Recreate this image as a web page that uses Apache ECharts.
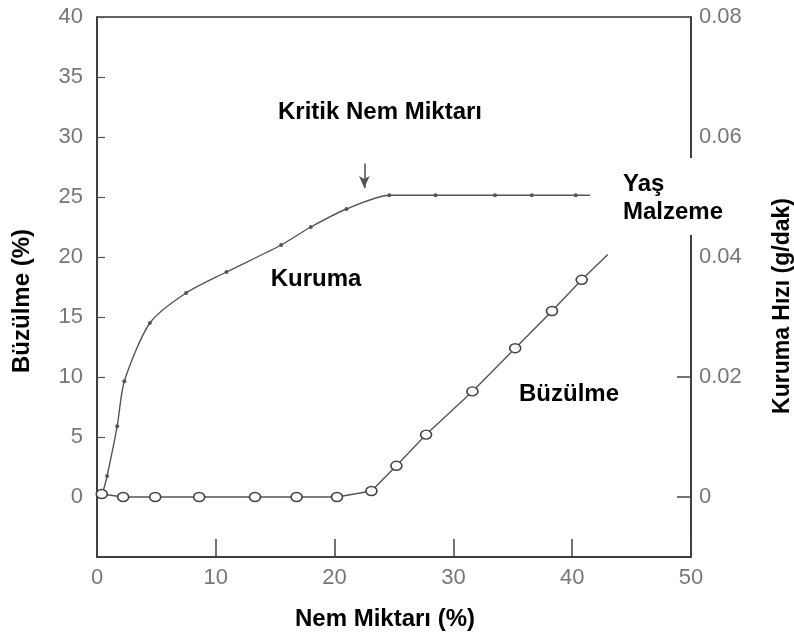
<!DOCTYPE html>
<html>
<head>
<meta charset="utf-8">
<script src="https://cdn.jsdelivr.net/npm/echarts@6/dist/echarts.min.js"></script>
<style>html,body{margin:0;padding:0;background:#fff}#c{width:794px;height:637px}</style>
</head>
<body>
<div id="c"></div>
<script>
// Nem Miktarı (%) values for each series
const kurumaX = [0.5, 0.85, 1.7, 2.3, 4.45, 7.5, 10.9, 15.5, 18.0, 21.0, 24.6, 28.5, 33.5, 36.6, 40.3, 41.5];
// Kuruma Hızı (g/dak)
const kurumaY = [0.0008, 0.0035, 0.0118, 0.0193, 0.029, 0.034, 0.0375, 0.042, 0.045, 0.048, 0.0503, 0.0503, 0.0503, 0.0503, 0.0503, 0.0503];
const kurumaMarker = [false, true, true, true, true, true, true, true, true, true, true, true, true, true, true, false];

const buzX = [0.4, 2.2, 4.9, 8.6, 13.3, 16.8, 20.2, 23.1, 25.2, 27.7, 31.6, 35.2, 38.3, 40.8, 43.0];
// Büzülme (%)
const buzY = [0.25, 0, 0, 0, 0, 0, 0, 0.5, 2.6, 5.2, 8.8, 12.4, 15.5, 18.1, 20.2];
const buzMarker = [true, true, true, true, true, true, true, true, true, true, true, true, true, true, false];

const xTicks = [0, 10, 20, 30, 40, 50];
const leftTicks = [0, 5, 10, 15, 20, 25, 30, 35, 40];
const rightLabels = [0, 0.02, 0.04, 0.06, 0.08];
const rightTicks = [0, 0.02];

// critical moisture arrow (x, from rate, to rate)
const kritikX = 22.5;
const kritikFrom = 0.0556;
const kritikTo = 0.0515;

const chart = echarts.init(document.getElementById('c'));
const tickFont = { fontFamily: 'Liberation Sans', fontSize: 22, color: '#777' };
const boldFont = { fontFamily: 'Liberation Sans', fontWeight: 'bold', fontSize: 24, fill: '#000' };

chart.setOption({
  animation: false,
  grid: { left: 97, right: 103, top: 17, bottom: 80, show: true, borderColor: '#333', borderWidth: 1.5 },
  xAxis: {
    type: 'value', min: 0, max: 50, interval: 10,
    axisLine: { onZero: false, lineStyle: { color: '#333', width: 1.5 } },
    axisTick: { inside: true, length: 18, lineStyle: { color: '#444', width: 1.5 }, customValues: xTicks },
    axisLabel: Object.assign({ margin: 10, customValues: xTicks }, tickFont),
    splitLine: { show: false }
  },
  yAxis: [{
    type: 'value', min: -5, max: 40, interval: 5, position: 'left',
    axisLine: { show: true, onZero: false, lineStyle: { color: '#333', width: 1.5 } },
    axisTick: { show: true, inside: true, length: 8, lineStyle: { color: '#555', width: 1.2 }, customValues: leftTicks },
    axisLabel: Object.assign({ margin: 14, customValues: leftTicks }, tickFont),
    splitLine: { show: false }
  }, {
    type: 'value', min: -0.01, max: 0.08, interval: 0.01, position: 'right',
    axisLine: { show: true, onZero: false, lineStyle: { color: '#333', width: 1.5 } },
    axisTick: { show: true, inside: true, length: 14, lineStyle: { color: '#444', width: 1.5 }, customValues: rightTicks },
    axisLabel: Object.assign({ margin: 8, customValues: rightLabels }, tickFont),
    splitLine: { show: false }
  }],
  series: [{
    name: 'Kuruma', type: 'line', yAxisIndex: 1,
    smooth: 0.25,
    symbol: 'circle', symbolSize: 4,
    itemStyle: { color: '#555' },
    lineStyle: { color: '#555', width: 1.4 },
    data: kurumaX.map((x, i) => ({ value: [x, kurumaY[i]], symbolSize: kurumaMarker[i] ? 4 : 0 })),
    markLine: {
      silent: true, symbol: ['none', 'arrow'], symbolSize: [8, 12],
      label: { show: false },
      lineStyle: { color: '#555', width: 1.6, type: 'solid' },
      data: [[{ coord: [kritikX, kritikFrom] }, { coord: [kritikX, kritikTo] }]]
    }
  }, {
    name: 'Büzülme', type: 'line', yAxisIndex: 0,
    symbol: 'circle', symbolSize: [11, 9],
    itemStyle: { color: '#fff', borderColor: '#444', borderWidth: 1.5 },
    lineStyle: { color: '#555', width: 1.4 },
    data: buzX.map((x, i) => ({ value: [x, buzY[i]], symbolSize: buzMarker[i] ? [11, 9] : 0 }))
  }],
  graphic: [
    { type: 'rect', shape: { x: 684, y: 158, width: 14, height: 77 }, style: { fill: '#fff' }, z: 50 },
    { type: 'text', x: 380, y: 112, style: Object.assign({ text: 'Kritik Nem Miktarı', align: 'center', verticalAlign: 'middle' }, boldFont), z: 60 },
    { type: 'text', x: 316, y: 279, style: Object.assign({ text: 'Kuruma', align: 'center', verticalAlign: 'middle' }, boldFont), z: 60 },
    { type: 'text', x: 569, y: 394, style: Object.assign({ text: 'Büzülme', align: 'center', verticalAlign: 'middle' }, boldFont), z: 60 },
    { type: 'text', x: 623, y: 184, style: Object.assign({ text: 'Yaş', align: 'left', verticalAlign: 'middle' }, boldFont), z: 60 },
    { type: 'text', x: 623, y: 212, style: Object.assign({ text: 'Malzeme', align: 'left', verticalAlign: 'middle' }, boldFont), z: 60 },
    { type: 'text', x: 385, y: 619, style: Object.assign({ text: 'Nem Miktarı (%)', align: 'center', verticalAlign: 'middle' }, boldFont), z: 60 },
    { type: 'text', x: 22, y: 301, rotation: Math.PI / 2, style: Object.assign({ text: 'Büzülme (%)', align: 'center', verticalAlign: 'middle' }, boldFont), z: 60 },
    { type: 'text', x: 783, y: 306, rotation: Math.PI / 2, style: Object.assign({ text: 'Kuruma Hızı (g/dak)', align: 'center', verticalAlign: 'middle' }, boldFont, { fontSize: 23 }), z: 60 }
  ]
});
</script>
</body>
</html>
